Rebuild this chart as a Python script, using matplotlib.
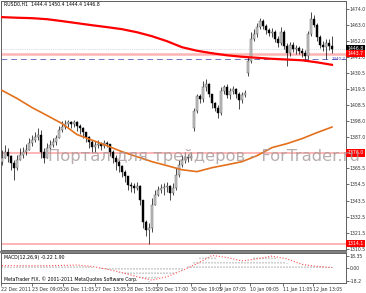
import numpy as np
import matplotlib.pyplot as plt
from matplotlib.lines import Line2D

# RUSD0 H1 candles (one entry per drawn candle)
open_ = [1370.0, 1372.7, 1376.8, 1374.1, 1369.3, 1365.9, 1371.4, 1374.8, 1376.8, 1378.2,
         1383.0, 1385.0, 1387.1, 1388.5, 1376.8, 1372.7, 1379.6, 1381.6, 1383.7, 1386.4,
         1391.9, 1393.9, 1396.0, 1396.7, 1396.0, 1396.7, 1394.6, 1393.2, 1390.5, 1387.1,
         1383.7, 1380.3, 1381.6, 1382.3, 1380.9, 1383.0, 1382.3, 1376.8, 1372.7, 1370.0,
         1367.3, 1363.2, 1360.4, 1354.3, 1353.6, 1352.2, 1353.6, 1344.0, 1329.0, 1323.5,
         1324.9, 1340.6, 1347.4, 1350.8, 1352.2, 1352.9, 1353.6, 1348.8, 1352.2, 1361.1,
         1367.9, 1371.4, 1373.4, 1372.7, 1393.2, 1404.2, 1414.5, 1412.4, 1420.6, 1422.7,
         1415.8, 1409.7, 1406.9, 1403.5, 1417.9, 1420.6, 1415.1, 1417.9, 1419.2, 1415.8,
         1411.7, 1415.1, 1430.2, 1438.4, 1453.4, 1456.9, 1461.7, 1465.8, 1462.3, 1459.6,
         1457.5, 1458.2, 1453.4, 1450.7, 1458.2, 1448.7, 1443.9, 1449.3, 1446.6, 1447.3,
         1445.2, 1443.9, 1441.8, 1456.9, 1467.1, 1463.0, 1454.8, 1449.3, 1448.0, 1450.7,
         1448.7]
high = [1378.2, 1381.6, 1379.6, 1374.8, 1371.4, 1374.8, 1379.6, 1380.3, 1382.3, 1386.4,
        1388.5, 1390.5, 1393.2, 1391.9, 1379.6, 1383.0, 1385.0, 1386.4, 1388.5, 1394.6,
        1397.4, 1398.7, 1398.7, 1398.0, 1398.7, 1397.4, 1396.0, 1393.9, 1390.5, 1387.8,
        1385.0, 1384.4, 1385.0, 1383.7, 1385.0, 1384.4, 1382.3, 1378.2, 1374.8, 1371.4,
        1367.9, 1364.5, 1360.4, 1356.3, 1355.6, 1356.3, 1354.3, 1344.0, 1330.3, 1328.3,
        1345.4, 1350.8, 1353.6, 1354.9, 1355.6, 1356.3, 1354.3, 1355.6, 1365.9, 1371.4,
        1374.8, 1376.2, 1375.5, 1376.2, 1406.9, 1415.8, 1415.8, 1424.7, 1426.1, 1423.3,
        1415.8, 1411.0, 1408.3, 1420.6, 1422.0, 1422.7, 1419.9, 1421.3, 1419.9, 1417.2,
        1417.2, 1418.6, 1441.1, 1458.2, 1460.3, 1464.4, 1467.8, 1467.1, 1463.7, 1461.0,
        1461.0, 1459.6, 1455.5, 1461.7, 1459.6, 1450.7, 1451.4, 1451.4, 1449.3, 1448.7,
        1447.3, 1445.9, 1458.9, 1471.9, 1469.9, 1464.4, 1456.2, 1452.1, 1453.4, 1453.4,
        1455.5]
low = [1367.9, 1372.7, 1370.0, 1364.5, 1357.7, 1364.5, 1371.4, 1372.7, 1374.8, 1378.2,
       1380.9, 1383.7, 1385.0, 1372.7, 1369.3, 1372.7, 1378.2, 1380.3, 1381.6, 1386.4,
       1390.5, 1392.6, 1393.9, 1393.2, 1393.9, 1391.2, 1389.1, 1386.4, 1383.7, 1379.6,
       1376.8, 1376.8, 1379.6, 1378.2, 1379.6, 1380.3, 1374.1, 1369.3, 1364.5, 1363.2,
       1359.7, 1356.3, 1350.8, 1349.5, 1348.8, 1350.8, 1340.6, 1324.9, 1319.4, 1314.1,
       1322.1, 1340.6, 1346.7, 1348.8, 1347.4, 1349.5, 1344.0, 1347.4, 1350.8, 1359.7,
       1366.6, 1369.3, 1370.0, 1371.4, 1391.2, 1403.5, 1409.7, 1411.0, 1417.9, 1413.8,
       1406.9, 1404.2, 1400.1, 1402.1, 1415.8, 1413.1, 1412.4, 1415.8, 1413.1, 1405.6,
       1409.7, 1413.8, 1428.1, 1437.0, 1452.1, 1454.8, 1460.3, 1460.3, 1456.9, 1455.5,
       1454.8, 1451.4, 1448.0, 1449.3, 1446.6, 1435.0, 1441.8, 1444.6, 1443.2, 1443.2,
       1441.1, 1438.4, 1439.8, 1455.5, 1461.7, 1452.1, 1447.3, 1445.2, 1439.8, 1445.9,
       1443.9]
close = [1372.7, 1376.8, 1374.1, 1369.3, 1365.9, 1371.4, 1374.8, 1376.8, 1378.2, 1383.0,
         1385.0, 1387.1, 1388.5, 1376.8, 1372.7, 1379.6, 1381.6, 1383.7, 1386.4, 1391.9,
         1393.9, 1396.0, 1396.7, 1396.0, 1396.7, 1394.6, 1393.2, 1390.5, 1387.1, 1383.7,
         1380.3, 1381.6, 1382.3, 1380.9, 1383.0, 1382.3, 1376.8, 1372.7, 1370.0, 1367.3,
         1363.2, 1360.4, 1354.3, 1353.6, 1352.2, 1353.6, 1344.0, 1329.0, 1323.5, 1324.9,
         1340.6, 1347.4, 1350.8, 1352.2, 1352.9, 1353.6, 1348.8, 1352.2, 1361.1, 1367.9,
         1371.4, 1373.4, 1372.7, 1374.1, 1404.2, 1414.5, 1412.4, 1420.6, 1422.7, 1415.8,
         1409.7, 1406.9, 1403.5, 1417.9, 1420.6, 1415.1, 1417.9, 1419.2, 1415.8, 1411.7,
         1415.1, 1416.5, 1438.4, 1453.4, 1456.9, 1461.7, 1465.8, 1462.3, 1459.6, 1457.5,
         1458.2, 1453.4, 1450.7, 1458.2, 1448.7, 1443.9, 1449.3, 1446.6, 1447.3, 1445.2,
         1443.9, 1441.8, 1456.9, 1467.1, 1463.0, 1454.8, 1449.3, 1448.0, 1450.7, 1448.7,
         1446.8]

# moving averages, sampled every 5 candles
ma_red = [1468.5, 1468.1, 1467.8, 1467.1, 1465.8, 1464.4, 1463.0, 1461.7, 1460.3, 1458.2,
          1455.5, 1452.1, 1448.0, 1445.6, 1443.9, 1442.5, 1441.5, 1440.8, 1440.1, 1439.6,
          1439.1, 1437.7, 1436.0]
ma_orange = [1418.6, 1413.1, 1406.9, 1401.5, 1396.0, 1388.5, 1384.7, 1380.9, 1376.8, 1373.4,
             1370.0, 1367.3, 1364.5, 1363.2, 1365.9, 1367.9, 1370.0, 1374.1, 1379.6, 1382.3,
             1385.7, 1389.8, 1393.6]

# MACD(12,26,9)
macd_hist = [3, 3, 3, 2, 2, 3, 3, 4, 4, 5, 5, 5, 6,
             5, 4, 4, 4, 5, 5, 6, 6, 7, 7, 7, 7, 6,
             6, 5, 4, 3, 2, 1, 0, -1, -1, -2,
             -3, -4, -5, -6, -7, -8, -10, -11, -12, -12, -14, -16, -18, -19,
             -18, -16, -14, -12, -11, -10, -9, -8, -6, -4, -2,
             0, 3, 6, 10, 14, 17, 19, 20, 20, 19, 17, 14, 13, 12, 11, 10, 10, 9, 9, 9,
             9, 11, 14, 17, 19, 20, 20, 20, 19, 18, 16, 14, 12, 10, 8, 6, 5, 4, 4, 3,
             3, 3, 4, 4, 4, 3, 3, 2, 2, 2]
macd_signal = [4, 4, 4, 4, 4.5, 5, 3, -1, -6, -12, -17, -12, -3, 7, 19, 16, 11, 14, 18, 14,
               6, 3, 1.5]

price_ticks = [1474.0, 1463.0, 1452.0, 1441.0, 1430.5, 1419.5, 1408.5, 1398.0, 1387.0,
               1376.0, 1365.5, 1354.5, 1343.5, 1332.5, 1321.5, 1310.5]
date_pos = [-0.3, 10, 20.3, 31, 41.7, 51.7, 63, 72.7, 82.7, 93.7, 103.7]
date_labels = ['22 Dec 2011', '23 Dec 09:05', '26 Dec 11:05', '27 Dec 13:05', '28 Dec 15:05',
               '29 Dec 17:00', '30 Dec 19:05', '9 Jan 07:05', '10 Jan 09:05', '11 Jan 11:05',
               '12 Jan 13:05']

W, H = 366, 293
fig = plt.figure(figsize=(W / 100, H / 100), dpi=100)
fs = 3.3

ax = fig.add_axes([1 / W, 43 / H, 345 / W, 249 / H])
ax2 = fig.add_axes([1 / W, 10 / H, 345 / W, 30 / H])

x = np.arange(len(close))
o = np.array(open_)
c = np.array(close)
up = c >= o

# candles
ax.vlines(x, low, high, color='black', lw=0.5, zorder=3)
body = np.maximum(np.abs(c - o), 0.4)
ax.bar(x[up], body[up], bottom=o[up], width=0.6, color='#c8c8c8', edgecolor='#505050', lw=0.3, zorder=4)
ax.bar(x[~up], body[~up], bottom=c[~up], width=0.6, color='black', edgecolor='black', lw=0.3, zorder=4)

# horizontal levels
ax.axhline(1443.7, color='#ffb4b4', lw=1.8, zorder=1)
ax.axhline(1376.0, color='#ffb4b4', lw=1.4, zorder=1)
ax.axhline(1314.1, color='#ffb4b4', lw=1.4, zorder=1)
ax.axhline(1446.8, color='#b8b8c8', lw=0.5, ls=':', zorder=1)
ax.axhline(1440.2, color='#7070c0', lw=0.7, ls=(0, (6, 4)), zorder=1)

# moving averages
ma_x = np.arange(0, len(close), 5)
ax.plot(ma_x, ma_red, color='#ff0000', lw=1.6, zorder=5)
ax.plot(ma_x, ma_orange, color='#e2701c', lw=1.2, zorder=5)

ax.set_xlim(-0.33, 114.67)
ax.set_ylim(1309.8, 1479.5)
ax.yaxis.tick_right()
ax.set_yticks(price_ticks)
# labels hidden under the coloured price tags are left blank
ax.set_yticklabels(['' if t in (1376.0,) else '%.1f' % t for t in price_ticks], fontsize=fs)
ax.tick_params(axis='y', length=2, width=0.5, pad=0.8, colors='#303030')
ax.set_xticks([])

ax.text(0.008, 0.995, 'RUSD0,H1  1444.4 1450.4 1444.4 1446.8', transform=ax.transAxes,
        fontsize=fs, va='top', ha='left')

# price tags on the right scale
yt = ax.get_yaxis_transform()
for val, bg in [(1446.8, 'black'), (1443.7, '#ff0000'), (1376.0, '#ff0000'), (1314.1, '#ff0000')]:
    ax.text(1.004, val, '%.1f' % val, transform=yt, fontsize=fs, color='white', va='center',
            ha='left', bbox=dict(boxstyle='square,pad=0.25', fc=bg, ec='none'), zorder=10)
ax.text(0.998, 1440.2, '1440.2', transform=yt, fontsize=3.0, color='#4040c0', va='center',
        ha='right', zorder=10)

# watermark
fig.text(204 / W, 1 - 157 / H, 'Портал для трейдеров - ForTrader.ru', fontsize=11.8,
         color='#a89a9a', alpha=0.8, ha='center', va='center')

# MACD window
ax2.vlines(x, 0, macd_hist, color='#c8c8c8', lw=1.2, ls=':', zorder=2)
ax2.plot(ma_x, macd_signal, color='#ff5050', lw=0.8, ls=':', zorder=3)
ax2.set_xlim(-0.33, 114.67)
ax2.set_ylim(-21.1, 22.5)
ax2.yaxis.tick_right()
ax2.set_yticks([18.35, 0.0, -18.2])
ax2.set_yticklabels(['18.35', '0.00', '-18.2'], fontsize=fs)
ax2.tick_params(axis='y', length=2, width=0.5, pad=0.8, colors='#303030')
ax2.set_xticks(date_pos)
ax2.set_xticklabels(date_labels, fontsize=fs, ha='left')
ax2.tick_params(axis='x', length=2, width=0.5, pad=1, colors='#303030')
ax2.text(0.008, 0.93, 'MACD(12,26,9) -0.22 1.90', transform=ax2.transAxes, fontsize=fs,
         va='top', ha='left')
ax2.text(0.008, 0.05, 'MetaTrader FIX, © 2001-2011 MetaQuotes Software Corp.',
         transform=ax2.transAxes, fontsize=fs, va='bottom', ha='left')

for a in (ax, ax2):
    for s in a.spines.values():
        s.set_color('#606060')
        s.set_linewidth(0.7)

# separator between the windows
fig.add_artist(Line2D([1 / W, 346 / W], [1 - 251.5 / H, 1 - 251.5 / H],
                      transform=fig.transFigure, color='#808080', lw=1.6))

fig.savefig('out.png', dpi=100)
